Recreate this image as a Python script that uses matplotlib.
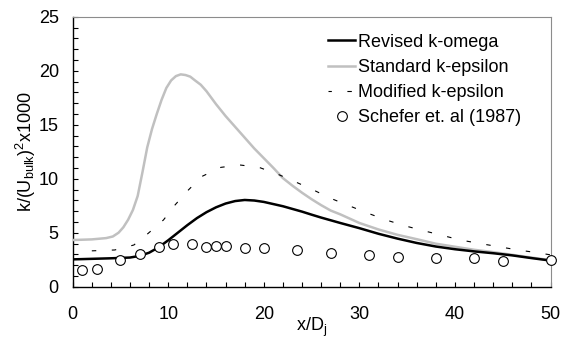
import matplotlib
matplotlib.use("Agg")
import matplotlib.pyplot as plt
from matplotlib.ticker import MultipleLocator

plt.rcParams['font.family'] = ['Liberation Sans', 'DejaVu Sans']
plt.rcParams['mathtext.default'] = 'regular'
plt.rcParams['mathtext.fontset'] = 'custom'
plt.rcParams['mathtext.rm'] = 'Liberation Sans'

# Revised k-omega
komega_x = [0, 2, 4, 6, 7, 8, 9, 10, 11, 12, 13, 14, 15, 16, 17, 18, 19, 20, 21, 22, 23,
            24, 25, 26, 28, 30, 32, 34, 36, 38, 40, 42, 44, 46, 48, 50]
komega_y = [2.53, 2.58, 2.63, 2.70, 2.85, 3.15, 3.65, 4.3, 5.0, 5.7, 6.35, 6.9, 7.35, 7.7, 7.93,
            8.03, 7.98, 7.85, 7.65, 7.45, 7.2, 6.95, 6.67, 6.4, 5.9, 5.42, 4.9, 4.45, 4.05, 3.72,
            3.47, 3.27, 3.1, 2.9, 2.65, 2.42]

# Standard k-epsilon
keps_x = [0, 2, 3.5, 4.2, 4.8, 5.3, 5.8, 6.3, 6.8, 7.3, 7.8, 8.3, 8.8, 9.3, 9.8, 10.3, 10.8,
          11.3, 11.8, 12.3, 12.8, 13.4, 14, 15, 16, 17, 18, 19, 20, 21, 22, 23, 24, 25, 26, 27,
          28, 30, 32, 34, 36, 38, 40, 42, 44, 46, 48, 50]
keps_y = [4.32, 4.38, 4.5, 4.65, 5.0, 5.5, 6.2, 7.1, 8.4, 10.6, 12.9, 14.6, 16.0, 17.3, 18.4,
          19.1, 19.5, 19.66, 19.6, 19.45, 19.1, 18.7, 18.1, 16.9, 15.8, 14.8, 13.8, 12.8, 11.9,
          11.0, 10.05, 9.35, 8.7, 8.1, 7.55, 7.05, 6.7, 5.9, 5.3, 4.8, 4.4, 3.98, 3.7, 3.42, 3.2,
          2.95, 2.7, 2.45]

# Modified k-epsilon
mod_x = [2.0, 4.4, 6.4, 7.9, 9.5, 10.7, 12.1, 13.5, 15.5, 17.5, 19.5, 21.5, 23.4, 25.2, 27, 29,
         30.9, 32.8, 34.7, 36.7, 38.8, 40.6, 42.6, 44.6, 46.6, 48.6, 50]
mod_y = [3.32, 3.4, 3.86, 4.94, 6.18, 7.56, 8.95, 10.2, 11.05, 11.27, 11.05, 10.4, 9.67, 8.95,
         8.18, 7.47, 6.8, 6.18, 5.65, 5.19, 4.72, 4.32, 4.0, 3.7, 3.4, 3.15, 2.95]

# Schefer et. al (1987)
exp_x = [1, 2.5, 5, 7, 9, 10.5, 12.5, 14, 15, 16, 18, 20, 23.5, 27, 31, 34, 38, 42, 45, 50]
exp_y = [1.55, 1.67, 2.47, 3.03, 3.7, 3.92, 3.92, 3.7, 3.73, 3.8, 3.6, 3.6, 3.37, 3.09, 2.93,
         2.75, 2.63, 2.63, 2.41, 2.47]

labels = ['Revised k-omega', 'Standard k-epsilon', 'Modified k-epsilon', 'Schefer et. al (1987)']

fig = plt.figure(figsize=(5.61, 3.40), dpi=100)
ax = fig.add_axes([72.7 / 561, 53.3 / 340, (550.5 - 72.7) / 561, (287 - 17) / 340])

ax.plot(komega_x, komega_y, color='black', lw=1.8, label=labels[0], zorder=4)
ax.plot(keps_x, keps_y, color='#c0c0c0', lw=1.8, label=labels[1], zorder=3)
ax.plot(mod_x, mod_y, color='black', lw=0.8, ls=(0, (4, 14)), label=labels[2], zorder=3)
ax.plot(exp_x, exp_y, ls='none', marker='o', ms=7, mfc='white', mec='black', mew=0.8,
        label=labels[3], zorder=5, clip_on=False)

ax.set_xlim(0, 50)
ax.set_ylim(0, 25)
ax.xaxis.set_major_locator(MultipleLocator(10))
ax.xaxis.set_minor_locator(MultipleLocator(2))
ax.yaxis.set_major_locator(MultipleLocator(5))
ax.yaxis.set_minor_locator(MultipleLocator(1))
ax.tick_params(axis='both', which='both', direction='in', length=3.5, width=0.8, color='black',
               labelsize=13)
ax.tick_params(axis='x', which='both', pad=14)
ax.tick_params(axis='y', which='both', pad=10)

for s in ['left', 'bottom']:
    ax.spines[s].set_color('black')
    ax.spines[s].set_linewidth(1.0)
for s in ['top', 'right']:
    ax.spines[s].set_color('#8c8c8c')
    ax.spines[s].set_linewidth(0.8)

ax.set_xlabel('x/D$_{j}$', fontsize=13)
ax.xaxis.set_label_coords(0.5, -0.108)
ax.set_ylabel('k/(U$_{bulk}$)$^{2}$x1000', fontsize=13)
ax.yaxis.set_label_coords(-0.072, 0.5)

leg = ax.legend(loc='upper left', bbox_to_anchor=((328 - 72.7) / 477.8, 1 - (34 - 17) / 270),
                frameon=False, fontsize=13, handlelength=1.5, handletextpad=0.15,
                labelspacing=0.45, borderpad=0, borderaxespad=0)
leg.get_lines()[2].set_linestyle((1, (4, 14)))

fig.savefig('out.png', dpi=100)
